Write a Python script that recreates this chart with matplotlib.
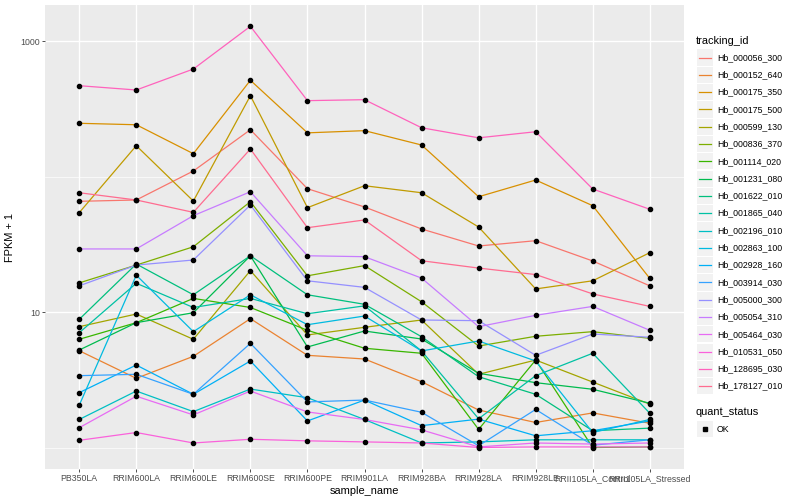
import numpy as np
import matplotlib.pyplot as plt
from matplotlib.patches import Rectangle
from matplotlib.lines import Line2D
from matplotlib.ticker import NullFormatter

plt.rcParams['font.family'] = ['Liberation Sans', 'DejaVu Sans']

samples = ['PB350LA', 'RRIM600LA', 'RRIM600LE', 'RRIM600SE', 'RRIM600PE', 'RRIM901LA',
           'RRIM928BA', 'RRIM928LA', 'RRIM928LE', 'RRII105LA_Control', 'RRII105LA_Stressed']

tracking_ids = ['Hb_000056_300', 'Hb_000152_640', 'Hb_000175_350', 'Hb_000175_500',
                'Hb_000599_130', 'Hb_000836_370', 'Hb_001114_020', 'Hb_001231_080',
                'Hb_001622_010', 'Hb_001865_040', 'Hb_002196_010', 'Hb_002863_100',
                'Hb_002928_160', 'Hb_003914_030', 'Hb_005000_300', 'Hb_005054_310',
                'Hb_005464_030', 'Hb_010531_050', 'Hb_128695_030', 'Hb_178127_010']

# ggplot default hue palette for 20 levels
colors = ['#F8766D', '#EA8331', '#D89000', '#C09B00', '#A3A500', '#7CAE00', '#39B600',
          '#00BB4E', '#00BF7D', '#00C1A3', '#00BFC4', '#00BAE0', '#00B0F6', '#35A2FF',
          '#9590FF', '#C77CFF', '#E76BF3', '#FA62DB', '#FF62BC', '#FF6C90']

# FPKM + 1 per sample
hb_000056_300 = [65.6, 67.1, 109.8, 221.5, 81.3, 59.6, 41.0, 30.7, 33.6, 23.8, 15.6]
hb_000152_640 = [5.18, 3.24, 4.71, 8.93, 4.79, 4.50, 3.06, 1.89, 1.53, 1.80, 1.51]
hb_000175_350 = [247, 241, 147.4, 513, 210, 218, 170.8, 70.9, 94.2, 60.9, 17.7]
hb_000175_500 = [54.1, 168.8, 65.9, 394.8, 58.9, 85.5, 75.9, 42.4, 14.8, 17.0, 27.4]
hb_000599_130 = [7.79, 9.66, 6.29, 20.2, 6.77, 7.71, 8.73, 3.47, 4.42, 3.04, 2.09]
hb_000836_370 = [16.4, 22.2, 30.3, 65.2, 18.5, 22.0, 11.9, 5.61, 6.62, 7.16, 6.39]
hb_001114_020 = [6.29, 8.34, 12.6, 10.8, 7.33, 5.40, 4.96, 1.36, 4.42, 1.00, 1.01]
hb_001231_080 = [5.24, 8.34, 9.88, 26.0, 5.52, 7.24, 6.32, 3.53, 3.01, 2.69, 2.12]
hb_001622_010 = [8.83, 22.6, 13.4, 26.0, 13.4, 11.4, 6.57, 3.33, 2.47, 1.33, 1.39]
hb_001865_040 = [7.03, 16.3, 10.8, 12.6, 9.71, 11.1, 5.16, 1.63, 3.39, 4.96, 1.79]
hb_002196_010 = [1.61, 2.61, 1.84, 2.70, 2.33, 1.61, 1.08, 1.10, 1.14, 1.14, 1.14]
hb_002863_100 = [2.05, 18.7, 7.16, 13.4, 8.06, 9.34, 5.16, 6.11, 4.35, 1.29, 1.61]
hb_002928_160 = [2.54, 4.06, 2.47, 4.35, 1.57, 2.24, 1.45, 1.62, 1.22, 1.33, 1.57]
hb_003914_030 = [3.39, 3.47, 2.47, 5.87, 2.17, 2.24, 1.82, 1.03, 1.91, 1.04, 1.14]
hb_005000_300 = [15.6, 22.2, 24.2, 61.6, 17.0, 15.2, 8.73, 8.63, 4.79, 6.88, 6.51]
hb_005054_310 = [29.2, 29.2, 51.4, 77.2, 26.0, 25.6, 17.8, 7.79, 9.45, 11.0, 7.33]
hb_005464_030 = [1.40, 2.39, 1.74, 2.61, 1.83, 1.61, 1.35, 1.01, 1.08, 1.06, 1.08]
hb_010531_050 = [1.13, 1.29, 1.08, 1.15, 1.12, 1.10, 1.08, 1.00, 1.01, 1.01, 1.01]
hb_128695_030 = [468, 435, 621, 1284, 363, 369, 229, 193, 214, 80.9, 57.3]
hb_178127_010 = [75.9, 67.1, 54.4, 159.6, 41.9, 47.8, 23.9, 21.1, 18.9, 13.6, 11.0]

series = [hb_000056_300, hb_000152_640, hb_000175_350, hb_000175_500, hb_000599_130,
          hb_000836_370, hb_001114_020, hb_001231_080, hb_001622_010, hb_001865_040,
          hb_002196_010, hb_002863_100, hb_002928_160, hb_003914_030, hb_005000_300,
          hb_005054_310, hb_005464_030, hb_010531_050, hb_128695_030, hb_178127_010]

W, H = 800, 500
fig = plt.figure(figsize=(8, 5), dpi=100)
ax = fig.add_axes([45 / W, 31 / H, 639 / W, 464 / H])
ax.set_facecolor('#EBEBEB')

x = np.arange(len(samples))
for vals, col in zip(series, colors):
    ax.plot(x, vals, color=col, lw=0.9, zorder=2)
for vals in series:
    ax.plot(x, vals, 'o', color='black', ms=3.0, zorder=3)

ax.set_yscale('log')
ax.set_ylim(0.694, 1844)
ax.set_xlim(-0.6, 10.6)
ax.set_yticks([10, 1000])
ax.set_yticklabels(['10', '1000'])
ax.set_yticks([1, 100], minor=True)
ax.yaxis.set_minor_formatter(NullFormatter())
ax.set_xticks(x)
ax.set_xticklabels(samples)

ax.grid(True, which='major', color='white', lw=1.0, zorder=0)
ax.grid(True, which='minor', axis='y', color='white', lw=0.5, zorder=0)
ax.set_axisbelow(True)
for s in ax.spines.values():
    s.set_visible(False)

ax.tick_params(axis='both', which='major', length=2, width=0.6, color='#333333',
               labelsize=6.3, labelcolor='#4D4D4D', pad=1.6)
ax.tick_params(axis='y', which='minor', length=0)

ax.set_xlabel('sample_name', fontsize=7.9, labelpad=2)
ax.set_ylabel('FPKM + 1', fontsize=7.9, labelpad=4)

# legends
def fx(px):
    return px / W

def fy(py):
    return 1 - py / H

fig.text(fx(696), fy(40.5), 'tracking_id', fontsize=7.9, va='center', ha='left')
for i, (tid, col) in enumerate(zip(tracking_ids, colors)):
    cy = 57.5 + 17.3 * i
    fig.add_artist(Rectangle((fx(697), fy(cy + 8.1)), 16.2 / W, 16.2 / H,
                             facecolor='#F2F2F2', edgecolor='none', transform=fig.transFigure))
    fig.add_artist(Line2D([fx(699), fx(711)], [fy(cy), fy(cy)], color=col, lw=0.9,
                          transform=fig.transFigure))
    fig.text(fx(717), fy(cy), tid, fontsize=6.3, va='center', ha='left')

fig.text(fx(696), fy(412), 'quant_status', fontsize=7.9, va='center', ha='left')
fig.add_artist(Rectangle((fx(697), fy(429 + 8.1)), 16.2 / W, 16.2 / H,
                         facecolor='#F2F2F2', edgecolor='none', transform=fig.transFigure))
fig.add_artist(Line2D([fx(705)], [fy(429)], marker='s', color='black', ms=2.2, lw=0,
                      transform=fig.transFigure))
fig.text(fx(717), fy(429), 'OK', fontsize=6.3, va='center', ha='left')

fig.savefig('out.png', dpi=100)
